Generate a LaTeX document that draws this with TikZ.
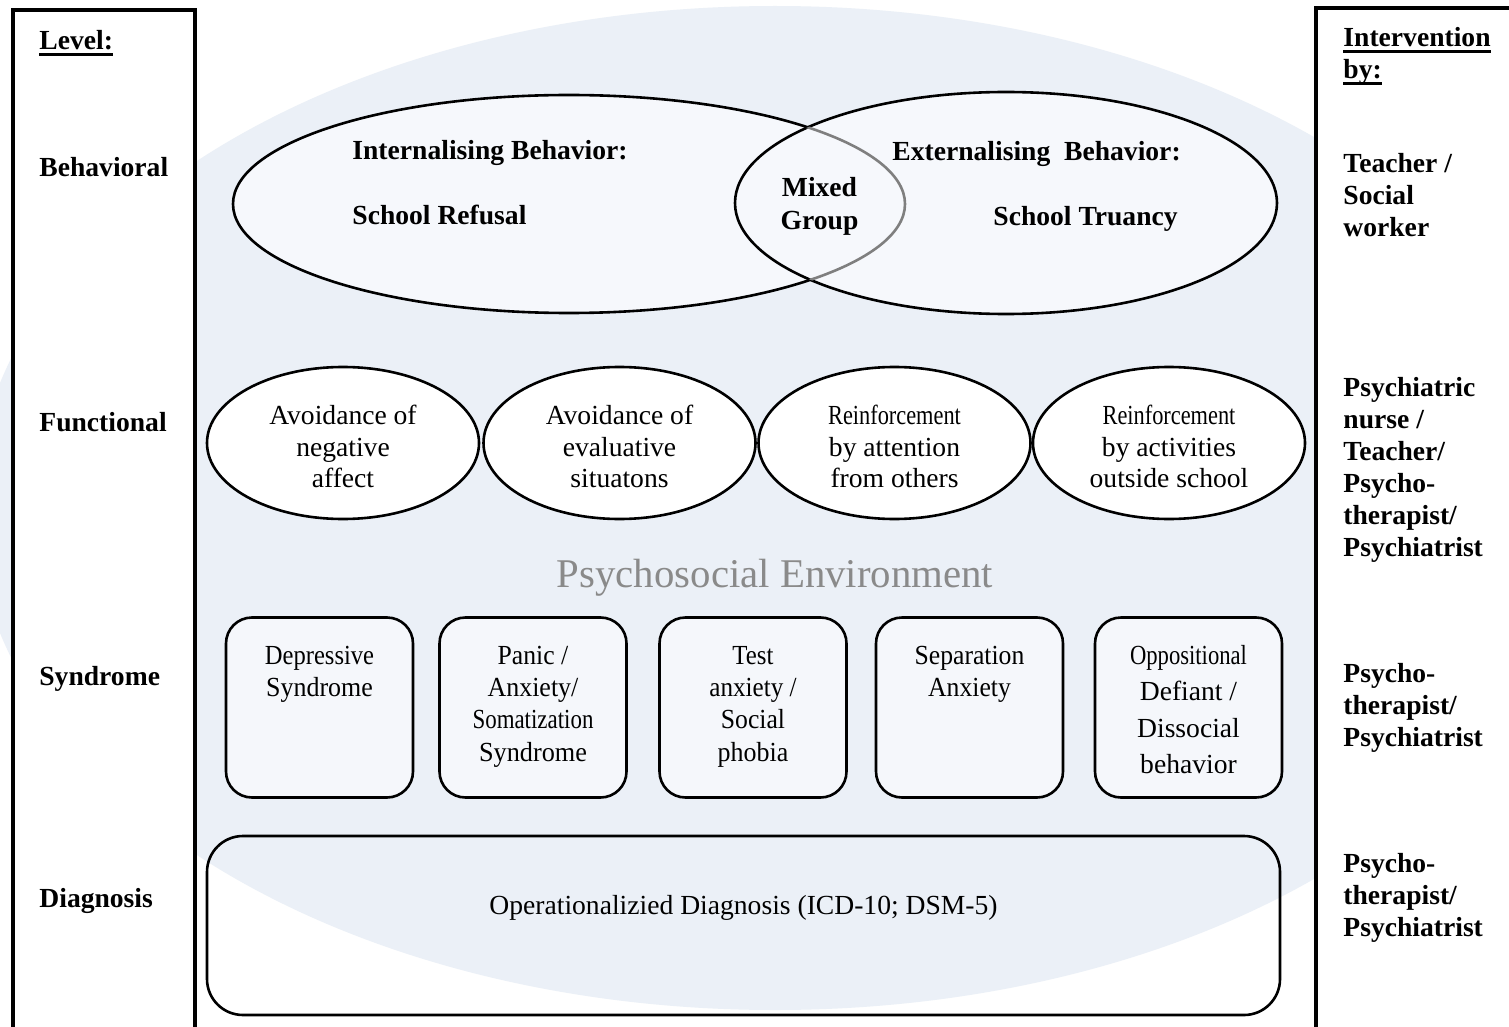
\documentclass[tikz,border=0pt]{standalone}
\usepackage{fontspec}
\setmainfont{Liberation Serif}
\usepackage{graphicx}
\usetikzlibrary{shapes.geometric}

\definecolor{envbg}{HTML}{EBF0F7}
\definecolor{ellfill}{HTML}{F6F8FC}
\definecolor{boxfill}{HTML}{F5F7FB}
\definecolor{envgrey}{HTML}{8A8A8A}
\definecolor{arcgrey}{HTML}{7F7F7F}

% horizontally condensed word
\newcommand{\hsq}[2]{\scalebox{#1}[1]{#2}}
% heavy underline for the column headings
\newsavebox{\ulbox}
\newcommand{\ulword}[1]{\leavevmode\sbox{\ulbox}{#1}\rlap{\rule[-3pt]{\wd\ulbox}{1.6pt}}\usebox{\ulbox}}
% taller first line, pushes the text block down a little inside its ellipse
\newcommand{\lowstrut}{\rule{0pt}{13.4pt}}

\tikzset{
  lvl/.style={font=\fontsize{13.8}{16}\selectfont\bfseries, inner sep=0pt, anchor=base west},
  frame/.style={draw, line width=2pt, fill=white},
  behell/.style={ellipse, draw, line width=1.3pt, fill=ellfill, inner sep=0pt},
  behtxt/.style={font=\fontsize{13.8}{16}\selectfont\bfseries, inner sep=0pt, anchor=base west},
  funell/.style={ellipse, draw, line width=1.3pt, fill=white, minimum width=136pt,
    minimum height=76pt, inner sep=0pt, align=center, font=\fontsize{13.8}{15.8}\selectfont},
  synbox/.style={rectangle, rounded corners=13pt, draw, line width=1.3pt, fill=boxfill,
    minimum width=93.5pt, minimum height=90pt, inner sep=0pt,
    text height=23.25pt, text depth=66.75pt, font=\fontsize{13.8}{16.2}\selectfont},
  diagbox/.style={rectangle, rounded corners=18pt, draw, line width=1.3pt,
    minimum width=536.5pt, minimum height=89.5pt, inner sep=0pt,
    text height=39pt, text depth=50.5pt, font=\fontsize{13.8}{16}\selectfont},
}

\begin{document}
\begin{tikzpicture}[x=0.5pt, y=-0.5pt]
  \useasboundingbox (0,0) rectangle (1509,1027);
  \clip (0,0) rectangle (1509,1027);
  \fill[white] (0,0) rectangle (1509,1027);

  % psychosocial environment backdrop
  \fill[envbg] (775,508) ellipse [x radius=400pt, y radius=251pt];

  % side columns
  \draw[frame] (12.5,10.5) rectangle (195,1045);
  \draw[frame] (1316,8) rectangle (1525,1045);

  % level column
  \node[lvl] (hlevel) at (39,50) {\ulword{Level:}};
  \node[lvl] (lbeh) at (39,177) {Behavioral};
  \node[lvl] (lfun) at (39,431) {Functional};
  \node[lvl] (lsyn) at (39,685) {Syndrome};
  \node[lvl] (ldia) at (39,907) {Diagnosis};

  % intervention column
  \node[lvl] (hint) at (1343,47) {\parbox[t]{85pt}{\raggedright\ulword{Intervention}\\\ulword{by:}}};
  \node[lvl] (ibeh) at (1343,173) {\parbox[t]{85pt}{\raggedright Teacher /\\Social\\worker}};
  \node[lvl] (ifun) at (1343,396) {\parbox[t]{85pt}{\raggedright Psychiatric\\nurse /\\Teacher/\\Psycho-\\therapist/\\Psychiatrist}};
  \node[lvl] (isyn) at (1343,682) {\parbox[t]{85pt}{\raggedright Psycho-\\therapist/\\Psychiatrist}};
  \node[lvl] (idia) at (1343,872) {\parbox[t]{85pt}{\raggedright Psycho-\\therapist/\\Psychiatrist}};

  % behavioral level: overlapping ellipses
  \node[behell, minimum width=336pt, minimum height=109pt] (intl) at (569,204) {};
  \node[behell, minimum width=271pt, minimum height=111pt] (extl) at (1006,203) {};
  \begin{scope}
    \clip (1006,203) ellipse [x radius=135.5pt, y radius=55.5pt];
    \draw[arcgrey, line width=1.3pt] (569,204) ellipse [x radius=168pt, y radius=54.5pt];
  \end{scope}
  \node[behtxt] (tint) at (352,160) {Internalising Behavior:};
  \node[behtxt] (tref) at (352,225) {School Refusal};
  \node[behtxt, anchor=base] (tmix) at (819.5,197) {\parbox[t]{60pt}{\centering Mixed\\[0.5pt]Group}};
  \node[behtxt] (text) at (892,161) {Externalising\ \ Behavior:};
  \node[behtxt] (ttru) at (993,226) {School Truancy};

  % functional level
  \node[funell] (f1) at (343,443) {\lowstrut Avoidance of\\negative\\affect};
  \node[funell] (f2) at (619.5,443) {\lowstrut Avoidance of\\evaluative\\situatons};
  \node[funell] (f3) at (894.5,443) {\lowstrut\hsq{0.81}{Reinforcement}\\by attention\\from others};
  \node[funell] (f4) at (1169,443) {\lowstrut\hsq{0.81}{Reinforcement}\\by activities\\outside school};

  \node[font=\fontsize{20.4}{24}\selectfont, text=envgrey, anchor=base, inner sep=0pt]
    (env) at (775,587) {Psychosocial Environment};

  % syndrome level
  \node[synbox] (s1) at (319.5,707.5)
    {\parbox[t]{90pt}{\centering\hsq{0.89}{Depressive}\\\hsq{0.94}{Syndrome}}};
  \node[synbox] (s2) at (533,707.5)
    {\parbox[t]{90pt}{\centering\hsq{0.93}{Panic /}\\\hsq{0.94}{Anxiety/}\\\hsq{0.83}{Somatization}\\\hsq{0.95}{Syndrome}}};
  \node[synbox] (s3) at (753,707.5)
    {\parbox[t]{90pt}{\centering\hsq{0.9}{Test}\\\hsq{0.91}{anxiety /}\\\hsq{0.93}{Social}\\\hsq{0.94}{phobia}}};
  \node[synbox] (s4) at (969.5,707.5)
    {\parbox[t]{90pt}{\centering\hsq{0.93}{Separation}\\\hsq{0.93}{Anxiety}}};
  \node[synbox] (s5) at (1188.5,707.5)
    {\parbox[t]{90pt}{\fontsize{13.8}{18.3}\selectfont\centering\hsq{0.82}{Oppositional}\\Defiant /\\Dissocial\\behavior}};

  % diagnosis level
  \node[diagbox] (dg) at (743.5,925.5) {Operationalizied Diagnosis (ICD-10; DSM-5)};
\end{tikzpicture}
\end{document}
